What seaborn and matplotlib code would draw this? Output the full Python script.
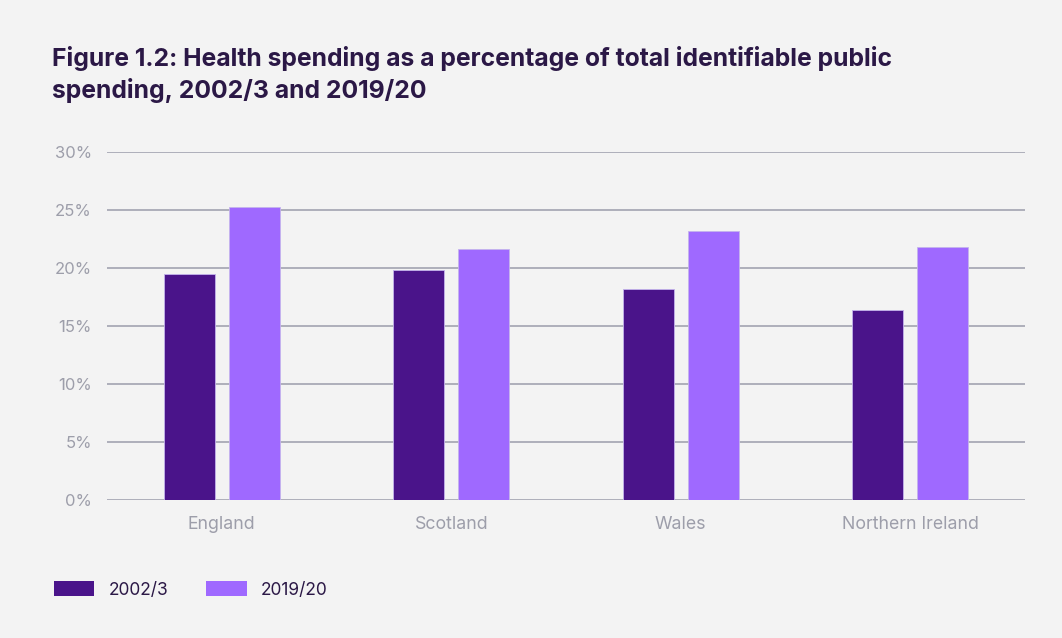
import matplotlib
matplotlib.use("Agg")
import matplotlib.pyplot as plt
import matplotlib.patches as mpatches
import seaborn as sns
import pandas as pd

# Health spending as % of total identifiable public spending
countries = ["England", "Scotland", "Wales", "Northern Ireland"]
years = ["2002/3", "2019/20"]
share_2002 = [19.5, 19.8, 18.2, 16.4]
share_2019 = [25.2, 21.6, 23.2, 21.8]
y_ticks = [0, 5, 10, 15, 20, 25, 30]
y_tick_labels = ["0%", "5%", "10%", "15%", "20%", "25%", "30%"]

title = ("Figure 1.2: Health spending as a percentage of total identifiable public\n"
         "spending, 2002/3 and 2019/20")

df = pd.DataFrame({
    "country": countries * 2,
    "year": [years[0]] * len(countries) + [years[1]] * len(countries),
    "share": share_2002 + share_2019,
})

BG = "#f3f3f3"
DARK = "#4a148a"
LIGHT = "#9f69ff"
GRID = "#a8a9b6"
TICK = "#9d9eaa"
TITLE = "#2b1846"

sns.set_theme(style="white")
plt.rcParams["font.family"] = ["Inter", "DejaVu Sans"]

fig = plt.figure(figsize=(10.62, 6.38), dpi=100, facecolor=BG)
ax = fig.add_axes([107 / 1062, 1 - 500.3 / 638, 918 / 1062, 348.6 / 638])
ax.set_facecolor(BG)

sns.barplot(data=df, x="country", y="share", hue="year", order=countries,
            hue_order=years, palette=[DARK, LIGHT], saturation=1,
            width=0.566, gap=0.215, edgecolor="#c4b3ec", linewidth=0.6,
            ax=ax, legend=False, zorder=3)

ax.set_xlim(-0.5, len(countries) - 0.5)
ax.set_ylim(0, 30)
ax.set_yticks(y_ticks)
ax.set_yticklabels(y_tick_labels)
ax.yaxis.grid(True, color=GRID, linewidth=1.3, zorder=0)
ax.set_axisbelow(True)
ax.set_xlabel("")
ax.set_ylabel("")
for s in ax.spines.values():
    s.set_visible(False)
ax.tick_params(axis="both", length=0, colors=TICK)
ax.tick_params(axis="y", pad=11, labelsize=12)
ax.tick_params(axis="x", pad=11, labelsize=12.8)

fig.text(52 / 1062, 1 - 46 / 638, title, ha="left", va="top",
         fontsize=17.8, fontweight="bold", color=TITLE, linespacing=1.33)

handles = [mpatches.Patch(facecolor=DARK, edgecolor="none", label=years[0]),
           mpatches.Patch(facecolor=LIGHT, edgecolor="none", label=years[1])]
leg = fig.legend(handles=handles, loc="center left",
                 bbox_to_anchor=(38 / 1062, 1 - 590 / 638), ncol=2,
                 frameon=False, fontsize=12.5, handlelength=2.35,
                 handleheight=0.95, handletextpad=0.8, columnspacing=2.2)
for t in leg.get_texts():
    t.set_color(TITLE)

fig.savefig("out.png", dpi=100, facecolor=BG)
